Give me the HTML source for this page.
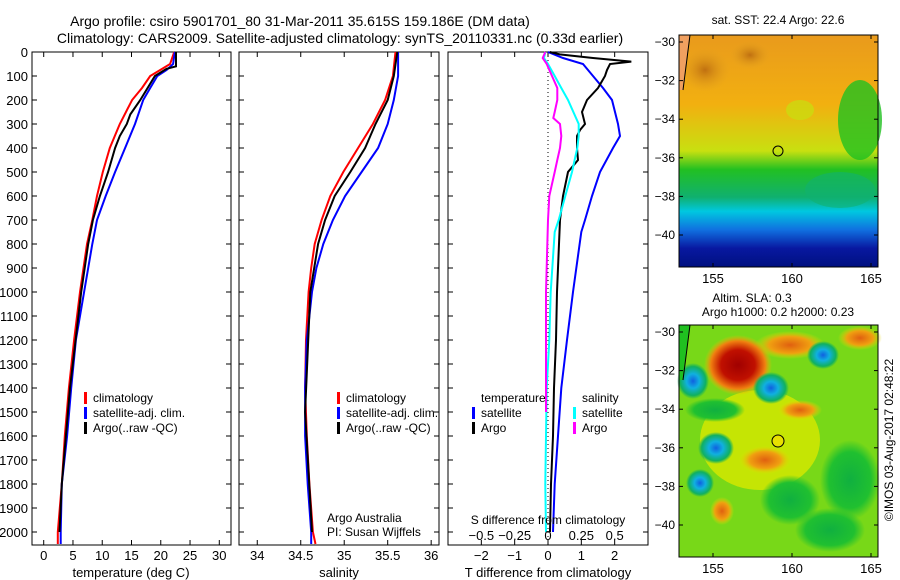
<!DOCTYPE html>
<html><head><meta charset="utf-8"><style>
body{margin:0;background:#fff}
svg{display:block;font-family:"Liberation Sans",sans-serif}
</style></head><body>
<svg id="fig" width="900" height="580" xmlns="http://www.w3.org/2000/svg">
<defs>
<linearGradient id="sstg" x1="0" y1="0" x2="0" y2="1">
<stop offset="0" stop-color="#e99a1c"/><stop offset="0.3" stop-color="#f2b010"/>
<stop offset="0.5" stop-color="#c8e010"/><stop offset="0.58" stop-color="#22c022"/>
<stop offset="0.7" stop-color="#10b070"/><stop offset="0.76" stop-color="#00c8e0"/>
<stop offset="0.84" stop-color="#1070e0"/><stop offset="0.92" stop-color="#0818a0"/>
<stop offset="1" stop-color="#001080"/></linearGradient>
<radialGradient id="rred"><stop offset="0" stop-color="#a00000"/><stop offset="0.5" stop-color="#c01000"/><stop offset="0.8" stop-color="#f08010"/><stop offset="1" stop-color="#f0c000" stop-opacity="0"/></radialGradient>
<radialGradient id="rorg"><stop offset="0" stop-color="#e06010"/><stop offset="0.6" stop-color="#f0a010"/><stop offset="1" stop-color="#e0e000" stop-opacity="0"/></radialGradient>
<radialGradient id="rcy"><stop offset="0" stop-color="#1060e0"/><stop offset="0.4" stop-color="#10b0e0"/><stop offset="0.8" stop-color="#10b060"/><stop offset="1" stop-color="#10b060" stop-opacity="0"/></radialGradient>
<radialGradient id="rdk"><stop offset="0" stop-color="#c07010"/><stop offset="1" stop-color="#e0a020" stop-opacity="0"/></radialGradient>
<radialGradient id="rgrn"><stop offset="0" stop-color="#10b040"/><stop offset="0.7" stop-color="#20c030"/><stop offset="1" stop-color="#20c030" stop-opacity="0"/></radialGradient>
</defs>
<g id="titles" font-size="14" text-anchor="middle">
<text x="300" y="26">Argo profile: csiro 5901701_80 31-Mar-2011 35.615S 159.186E (DM data)</text>
<text x="340" y="43">Climatology: CARS2009. Satellite-adjusted climatology: synTS_20110331.nc (0.33d earlier)</text>
</g>
<g id="p1"></g>
<g id="p2"></g>
<g id="p3"></g>

<g>
<text x="778" y="24" font-size="12" text-anchor="middle">sat. SST: 22.4 Argo: 22.6</text>
<rect x="679" y="35" width="199" height="232" fill="url(#sstg)"/>
<ellipse cx="705" cy="70" rx="25" ry="22" fill="url(#rdk)"/>
<ellipse cx="750" cy="55" rx="20" ry="14" fill="url(#rdk)"/>
<ellipse cx="800" cy="110" rx="14" ry="10" fill="#c8e010" opacity="0.7"/>
<ellipse cx="860" cy="120" rx="22" ry="40" fill="#20c020" opacity="0.8"/>
<ellipse cx="840" cy="190" rx="35" ry="18" fill="#10b070" opacity="0.6"/>
<path d="M679 35 L690 35 L683 90 L679 90 Z" fill="#f0a060"/>
<path d="M690 35 L683 90" stroke="#000" fill="none"/>
<circle cx="778" cy="151" r="5" fill="none" stroke="#000"/>
<rect x="679" y="35" width="199" height="232" fill="none" stroke="#000"/>
</g>
<g>
<text x="752" y="302" font-size="12" text-anchor="middle">Altim. SLA: 0.3</text>
<text x="778" y="316" font-size="12" text-anchor="middle">Argo h1000: 0.2 h2000: 0.23</text>
<rect x="679" y="325" width="199" height="232" fill="#78d818"/>
<ellipse cx="760" cy="440" rx="60" ry="50" fill="#d8e800" opacity="0.8"/>
<ellipse cx="790" cy="500" rx="30" ry="25" fill="url(#rgrn)"/>
<ellipse cx="850" cy="480" rx="30" ry="40" fill="url(#rgrn)"/>
<ellipse cx="830" cy="530" rx="35" ry="22" fill="url(#rgrn)"/>
<ellipse cx="715" cy="410" rx="30" ry="12" fill="url(#rgrn)"/>
<ellipse cx="790" cy="345" rx="35" ry="14" fill="url(#rorg)"/>
<ellipse cx="800" cy="410" rx="22" ry="10" fill="url(#rorg)"/>
<ellipse cx="738" cy="365" rx="34" ry="30" fill="url(#rred)"/>
<ellipse cx="765" cy="460" rx="26" ry="14" fill="url(#rorg)"/>
<ellipse cx="722" cy="511" rx="12" ry="14" fill="url(#rorg)"/>
<ellipse cx="860" cy="338" rx="22" ry="12" fill="url(#rorg)"/>
<ellipse cx="693" cy="381" rx="16" ry="18" fill="url(#rcy)"/>
<ellipse cx="771" cy="388" rx="18" ry="16" fill="url(#rcy)"/>
<ellipse cx="716" cy="448" rx="18" ry="16" fill="url(#rcy)"/>
<ellipse cx="700" cy="483" rx="14" ry="14" fill="url(#rcy)"/>
<ellipse cx="823" cy="355" rx="16" ry="14" fill="url(#rcy)"/>
<path d="M679 325 L690 325 L683 380 L679 380 Z" fill="#20c020"/>
<path d="M690 325 L683 380" stroke="#000" fill="none"/>
<circle cx="778" cy="441" r="6" fill="#e8e000" stroke="#000"/>
<rect x="679" y="325" width="199" height="232" fill="none" stroke="#000"/>
</g>
<text transform="translate(893,440) rotate(-90)" font-size="12" text-anchor="middle">©IMOS 03-Aug-2017 02:48:22</text>
<g id="maxes" font-size="12"></g>
</svg>
<script>
const NS='http://www.w3.org/2000/svg';
const depthTicks=[0,100,200,300,400,500,600,700,800,900,1000,1100,1200,1300,1400,1500,1600,1700,1800,1900,2000];
const depths=[0,50,75,100,150,200,300,400,500,600,700,800,1000,1200,1400,1600,1800,2000,2050];
const tClim=[22.3,21.6,19.9,18.2,16.8,15.1,13.0,11.3,10.1,9.1,8.3,7.4,6.2,5.2,4.3,3.6,3.1,2.4,2.4];
const tSat=[22.4,22.1,21.0,19.4,18.2,17.0,15.6,13.9,12.2,10.6,9.1,8.3,6.9,5.5,4.7,4.0,3.1,2.9,2.9];
const argoDepths=[0,60,70,100,200,260,300,350,400,500,600,700,800,1000,1400,1800,2000];
const tArgo=[22.6,22.6,21.0,19.0,16.5,14.8,14.2,13.0,12.2,11.0,9.6,8.4,7.6,6.4,4.5,3.1,2.7];
const sDepths=[0,100,200,300,400,500,600,700,800,900,1000,1200,1400,1600,1800,2000,2050];
const sClim=[35.59,35.56,35.47,35.33,35.16,34.99,34.84,34.74,34.66,34.62,34.59,34.56,34.55,34.57,34.60,34.64,34.67];
const sSat=[35.62,35.62,35.57,35.50,35.39,35.20,35.01,34.87,34.76,34.68,34.63,34.57,34.55,34.55,34.58,34.62,34.62];
const sArgoDepths=[0,100,200,300,350,400,500,600,700,800,1000,1500,2000];
const sArgo=[35.61,35.57,35.50,35.36,35.30,35.24,35.07,34.89,34.78,34.70,34.61,34.55,34.63];
const dDepths=[0,25,50,100,150,200,300,350,400,500,600,700,750,1000,1200,1400,1600,1800,2000];
const dTSat=[0,0.45,1.05,1.35,1.65,1.92,2.1,2.16,1.95,1.56,1.32,1.11,1.0,0.75,0.57,0.4,0.3,0.2,0.15];
const dSSat=[-0.02,-0.03,0,0.05,0.1,0.15,0.23,0.23,0.22,0.18,0.13,0.08,0.05,0.02,0.01,-0.01,-0.015,-0.02,-0.015];
const aDepths=[0,10,25,40,50,75,100,150,200,250,300,325,350,400,450,500,600,700,1000,1200,1400,1600,1800,2000];
const dTArgo=[0.05,0.35,1.35,2.5,1.86,1.77,1.71,1.5,1.17,1.02,1.11,0.96,0.87,0.87,0.9,0.6,0.45,0.36,0.27,0.24,0.18,0.15,0.09,0.06];
const mDepths=[0,25,50,100,150,200,250,275,300,350,400,450,500,550,600,700,1000,1200,1500];
const dSArgo=[-0.02,-0.04,-0.01,0.03,0.07,0.07,0.05,0.04,0.09,0.1,0.09,0.07,0.05,0.03,0.01,0,-0.015,-0.015,-0.015];
const tTicks=[0,5,10,15,20,25,30];
const sTicks=[34,34.5,35,35.5,36];
const sTickLabels=['34','34.5','35','35.5','36'];
const dTTicks=[-2,-1,0,1,2];
const dSTicks=[-0.5,-0.25,0,0.25,0.5];
const dSTickLabels=['\u22120.5','\u22120.25','0','0.25','0.5'];
const lonTicks=[155,160,165];
const latTicks=[-30,-32,-34,-36,-38,-40];

const Y0=52,Y1=545,DMAX=(545-52)/0.24;
const y=d=>Y0+d*(Y1-Y0)/DMAX;
function mk(p,tag,a){const e=document.createElementNS(NS,tag);for(const k in a)e.setAttribute(k,a[k]);p.appendChild(e);return e;}
function txt(p,x,yy,s,anchor,name,size){const t=mk(p,'text',{x:x,y:yy,'text-anchor':anchor||'middle','font-size':size||13});t.textContent=s;

return t;}
function panel(g,x0,x1,xmin,xmax,labels){
 const sx=v=>x0+(v-xmin)/(xmax-xmin)*(x1-x0);
 const r=mk(g,'rect',{x:x0,y:Y0,width:x1-x0,height:Y1-Y0,fill:'none',stroke:'#000'});
 
 
 depthTicks.forEach(d=>{mk(g,'line',{x1:x0,x2:x0+5,y1:y(d),y2:y(d),stroke:'#000'});mk(g,'line',{x1:x1,x2:x1-5,y1:y(d),y2:y(d),stroke:'#000'});
  if(labels) txt(g,x0-4,y(d)+5,String(d),'end','y-tick-label',13);});
 return sx;}
function line(g,sx,xs,ds,color,name,w){
 const pts=xs.map((v,i)=>sx(v).toFixed(1)+','+y(ds[i]).toFixed(1)).join(' ');
 const p=mk(g,'polyline',{points:pts,fill:'none',stroke:color,'stroke-width':w||2});
 
 }
function legend(g,x,yy,color,label,name){
 const r=mk(g,'rect',{x:x,y:yy-10,width:3,height:12,fill:color});
 
 
 txt(g,x+9,yy,label,'start',name,12);}

const g1=document.getElementById('p1');
const s1=panel(g1,32,231,-2,32,true);
tTicks.forEach(v=>{mk(g1,'line',{x1:s1(v),x2:s1(v),y1:Y0,y2:Y0+5,stroke:'#000'});mk(g1,'line',{x1:s1(v),x2:s1(v),y1:Y1,y2:Y1-5,stroke:'#000'});txt(g1,s1(v),560,String(v),'middle','x-tick-label',13);});
line(g1,s1,tClim,depths,'#f00','temp-climatology-line');
line(g1,s1,tSat,depths,'#00f','temp-satellite-line');
line(g1,s1,tArgo,argoDepths,'#000','temp-argo-line');
txt(g1,131,577,'temperature (deg C)','middle','x-axis-title',13);
legend(g1,84,402,'#f00','climatology','legend-climatology');
legend(g1,84,417,'#00f','satellite-adj. clim.','legend-satellite');
legend(g1,84,432,'#000','Argo(..raw -QC)','legend-argo');
const g2=document.getElementById('p2');
const s2=panel(g2,239,439,33.79,36.09,false);
sTicks.forEach((v,i)=>{mk(g2,'line',{x1:s2(v),x2:s2(v),y1:Y0,y2:Y0+5,stroke:'#000'});mk(g2,'line',{x1:s2(v),x2:s2(v),y1:Y1,y2:Y1-5,stroke:'#000'});txt(g2,s2(v),560,sTickLabels[i],'middle','x-tick-label',13);});
line(g2,s2,sClim,sDepths,'#f00','sal-climatology-line');
line(g2,s2,sSat,sDepths,'#00f','sal-satellite-line');
line(g2,s2,sArgo,sArgoDepths,'#000','sal-argo-line');
txt(g2,339,577,'salinity','middle','x-axis-title',13);
legend(g2,337,402,'#f00','climatology','legend-climatology');
legend(g2,337,417,'#00f','satellite-adj. clim.','legend-satellite');
legend(g2,337,432,'#000','Argo(..raw -QC)','legend-argo');
txt(g2,327,522,'Argo Australia','start','credit-line-1',12);
txt(g2,327,536,'PI: Susan Wijffels','start','credit-line-2',12);
const g3=document.getElementById('p3');
const s3=panel(g3,448,648,-3,3,false);
const s3s=v=>s3(v*4);
dTTicks.forEach(v=>{mk(g3,'line',{x1:s3(v),x2:s3(v),y1:Y0,y2:Y0+5,stroke:'#000'});mk(g3,'line',{x1:s3(v),x2:s3(v),y1:Y1,y2:Y1-5,stroke:'#000'});txt(g3,s3(v),560,v<0?'\u2212'+(-v):String(v),'middle','x-tick-label',13);});
mk(g3,'line',{x1:s3(0),x2:s3(0),y1:Y0,y2:Y1,stroke:'#000','stroke-dasharray':'1,3'});
line(g3,s3,dTSat,dDepths,'#00f','dT-satellite-line');
line(g3,s3,dTArgo,aDepths,'#000','dT-argo-line');
line(g3,s3s,dSSat,dDepths,'#0ff','dS-satellite-line');
line(g3,s3s,dSArgo,mDepths,'#f0f','dS-argo-line');
dSTicks.forEach((v,i)=>txt(g3,s3s(v),540,dSTickLabels[i],'middle','s-tick-label',13));
txt(g3,548,524,'S difference from climatology','middle','s-axis-title',12);
txt(g3,548,577,'T difference from climatology','middle','x-axis-title',13);
txt(g3,481,402,'temperature','start','legend-temperature-heading',12);
legend(g3,472,417,'#00f','satellite','legend-t-satellite');
legend(g3,472,432,'#000','Argo','legend-t-argo');
txt(g3,582,402,'salinity','start','legend-salinity-heading',12);
legend(g3,573,417,'#0ff','satellite','legend-s-satellite');
legend(g3,573,432,'#f0f','Argo','legend-s-argo');
const ga=document.getElementById('maxes');
[[35,42],[325,332]].forEach(([top,l30])=>{
 const bot=top+232;
 const lx=v=>713+(v-155)*15.8, ly=v=>l30+(-30-v)*19.3;
 lonTicks.forEach(v=>{mk(ga,'line',{x1:lx(v),x2:lx(v),y1:top,y2:top+4,stroke:'#000'});mk(ga,'line',{x1:lx(v),x2:lx(v),y1:bot,y2:bot-4,stroke:'#000'});txt(ga,lx(v),bot+16,String(v),'middle','lon-tick-label',13);});
 latTicks.forEach(v=>{mk(ga,'line',{x1:679,x2:683,y1:ly(v),y2:ly(v),stroke:'#000'});mk(ga,'line',{x1:878,x2:874,y1:ly(v),y2:ly(v),stroke:'#000'});txt(ga,675,ly(v)+4,'\u2212'+(-v),'end','lat-tick-label',12);});
});
</script>
</body></html>
